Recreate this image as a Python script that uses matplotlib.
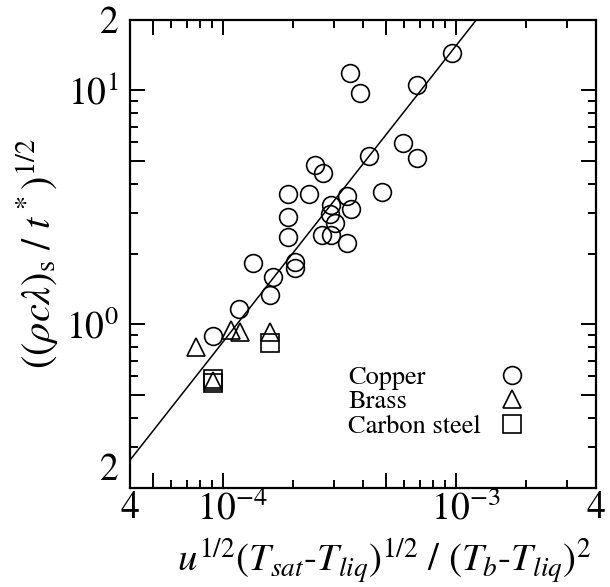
import matplotlib
matplotlib.use("Agg")
import matplotlib.pyplot as plt

plt.rcParams["font.family"] = ["STIXGeneral", "DejaVu Sans"]
plt.rcParams["mathtext.fontset"] = "stix"

# Copper
cu_x = [9.61e-4, 6.80e-4, 3.52e-4, 3.88e-4, 5.92e-4, 6.84e-4, 4.81e-4, 4.26e-4,
        2.49e-4, 2.70e-4, 1.91e-4, 2.35e-4, 3.42e-4, 2.91e-4, 3.54e-4, 2.89e-4,
        1.91e-4, 3.02e-4, 1.91e-4, 2.66e-4, 2.91e-4, 3.41e-4, 2.04e-4, 2.04e-4,
        1.35e-4, 1.65e-4, 1.59e-4, 1.17e-4, 9.11e-5]
cu_y = [14.4, 10.5, 11.9, 9.72, 5.94, 5.13, 3.69, 5.25,
        4.80, 4.43, 3.61, 3.61, 3.54, 3.24, 3.11, 2.96,
        2.87, 2.71, 2.37, 2.41, 2.41, 2.22, 1.84, 1.74,
        1.83, 1.60, 1.34, 1.16, 0.890]

# Brass
br_x = [7.68e-5, 1.09e-4, 1.19e-4, 1.60e-4, 9.13e-5]
br_y = [0.801, 0.947, 0.931, 0.924, 0.573]

# Carbon steel
cs_x = [1.60e-4, 9.13e-5, 9.13e-5]
cs_y = [0.833, 0.582, 0.562]

# correlation line, end points
fit_x = [4.0e-5, 1.22e-3]
fit_y = [0.263, 19.9]

xticks_major = [4e-5, 5e-5, 1e-4, 5e-4, 1e-3, 4e-3]
xtick_labels = ["4", "", r"$\hspace{0.75}10^{-4}$", "", r"$\hspace{0.75}10^{-3}$", "4"]
xticks_minor = [6e-5, 7e-5, 8e-5, 9e-5, 2e-4, 3e-4, 4e-4, 6e-4, 7e-4, 8e-4, 9e-4, 2e-3, 3e-3]
yticks_major = [0.2, 0.5, 1, 5, 10, 20]
ytick_labels = ["2", "", r"$10^0$", "", r"$10^1$", "2"]
yticks_minor = [0.3, 0.4, 0.6, 0.7, 0.8, 0.9, 2, 3, 4, 6, 7, 8, 9]

fig = plt.figure(figsize=(6.1, 5.87), dpi=100)
ax = fig.add_axes([0.2131, 0.1687, 0.7639, 0.7972])

ax.plot(fit_x, fit_y, color="black", lw=1.1)
mk = dict(ls="none", mfc="none", mec="black", mew=1.2)
h_cu, = ax.plot(cu_x, cu_y, marker="o", ms=12.8, **mk)
h_br, = ax.plot(br_x, br_y, marker="^", ms=12.8, **mk)
h_cs, = ax.plot(cs_x, cs_y, marker="s", ms=12.8, **mk)

ax.set_xscale("log")
ax.set_yscale("log")
ax.set_xlim(4e-5, 4e-3)
ax.set_ylim(0.2, 20)

ax.set_xticks(xticks_major, xtick_labels)
ax.set_xticks(xticks_minor, minor=True)
ax.set_yticks(yticks_major, ytick_labels)
ax.set_yticks(yticks_minor, minor=True)
ax.tick_params(which="both", direction="in", top=True, right=True, width=1.4,
               labelsize=27)
ax.tick_params(which="major", length=11)
ax.tick_params(axis="x", which="major", pad=2)
ax.tick_params(axis="y", which="major", pad=8)
ax.tick_params(which="minor", length=6, labelleft=False, labelbottom=False)
for s in ax.spines.values():
    s.set_linewidth(1.6)
# bottom "2" sits above the corner so it clears the x "4"
ax.yaxis.get_major_ticks()[0].label1.set_verticalalignment("bottom")

ax.set_xlabel(r"$u^{\mathit{1/2}}(T_{sat}\text{-}T_{liq})^{1/2}\ /\ (T_b\text{-}T_{liq})^2$",
              fontsize=28)
ax.xaxis.set_label_coords(0.545, -0.103)
ax.set_ylabel(r"$((\rho c\lambda)_{\rm s}\ /\ t^*)^{1/2}$", fontsize=29)
ax.yaxis.set_label_coords(-0.15, 0.5)

leg = ax.legend([h_cu, h_br, h_cs], ["Copper", "Brass", "Carbon steel"],
                loc="lower left", bbox_to_anchor=(0.468, 0.105), frameon=False,
                markerfirst=False, fontsize=19, handlelength=1.0,
                handletextpad=0.7, labelspacing=0.0, borderpad=0,
                borderaxespad=0)
# line the labels up on the left, markers in one column on the right
fig.canvas.draw()
widths = [t.get_window_extent().width for t in leg.get_texts()]
rows = leg._legend_handle_box.get_children()[0].get_children()
for row, w in zip(rows, widths):
    row.sep += (max(widths) - w) * 72 / fig.dpi

fig.savefig("out.png", dpi=100)
plt.close(fig)
